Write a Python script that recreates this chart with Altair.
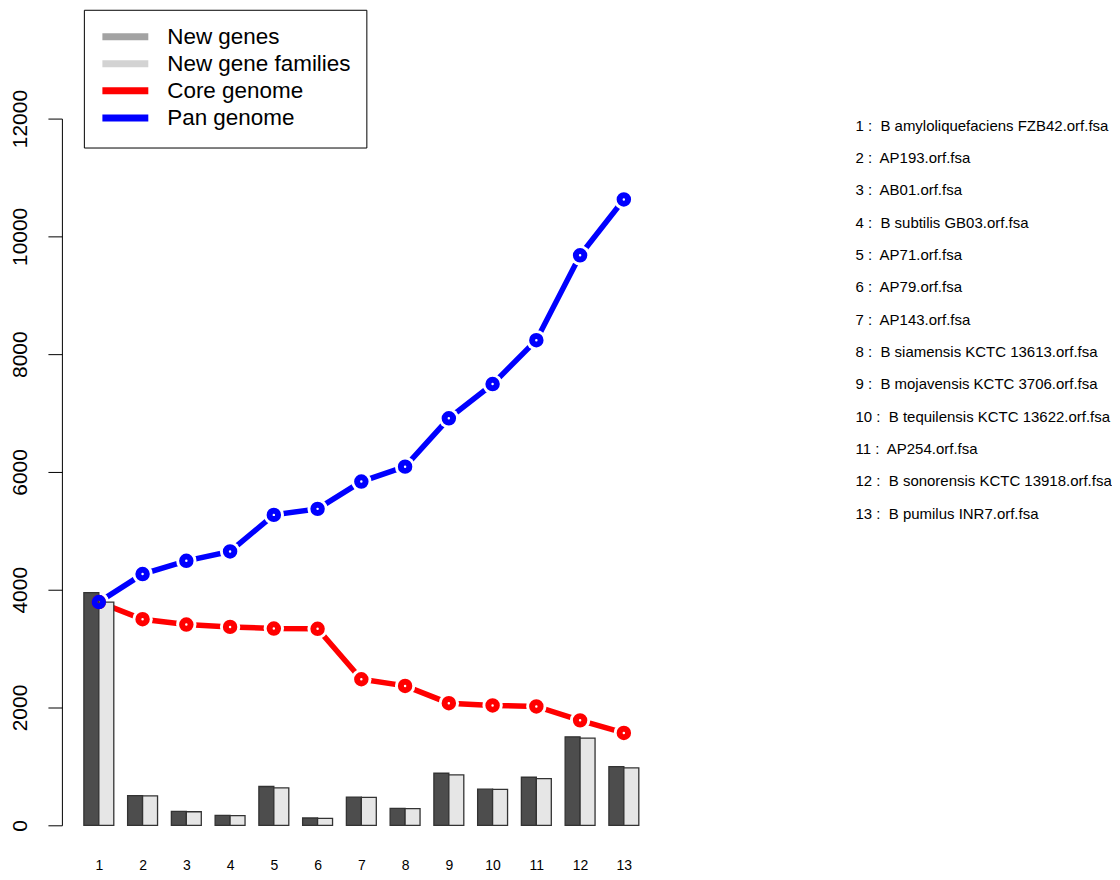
import altair as alt
import pandas as pd

# ---------------- data ----------------
ids = list(range(1, 14))
new_genes = [3952, 505, 236, 169, 659, 124, 479, 287, 884, 614, 816, 1503, 997]
new_families = [3790, 500, 230, 165, 636, 118, 473, 282, 856, 610, 794, 1481, 974]
core_genome = [3790, 3499, 3409, 3369, 3341, 3337, 2480, 2367, 2074, 2036, 2018, 1782, 1568]
pan_genome = [3790, 4266, 4491, 4650, 5271, 5373, 5836, 6090, 6910, 7492, 8237, 9678, 10627]
genome_names = [
    "B amyloliquefaciens FZB42.orf.fsa",
    "AP193.orf.fsa",
    "AB01.orf.fsa",
    "B subtilis GB03.orf.fsa",
    "AP71.orf.fsa",
    "AP79.orf.fsa",
    "AP143.orf.fsa",
    "B siamensis KCTC 13613.orf.fsa",
    "B mojavensis KCTC 3706.orf.fsa",
    "B tequilensis KCTC 13622.orf.fsa",
    "AP254.orf.fsa",
    "B sonorensis KCTC 13918.orf.fsa",
    "B pumilus INR7.orf.fsa",
]
y_ticks = [0, 2000, 4000, 6000, 8000, 10000, 12000]

series_names = ["New genes", "New gene families", "Core genome", "Pan genome"]
legend_colors = ["#a3a3a3", "#d3d3d3", "#ff0000", "#0000ff"]
bar_kinds = ["New genes", "New gene families"]
bar_colors = ["#4d4d4d", "#e6e6e6"]

bars_df = pd.DataFrame({
    "id": ids * 2,
    "kind": ["New genes"] * len(ids) + ["New gene families"] * len(ids),
    "value": new_genes + new_families,
})
lines_df = pd.DataFrame({
    "id": ids * 2,
    "series": ["Core genome"] * len(ids) + ["Pan genome"] * len(ids),
    "value": core_genome + pan_genome,
})
list_df = pd.DataFrame({
    "idx": ids,
    "label": [f"{i} :\u00a0 {n}" for i, n in zip(ids, genome_names)],
})

FONT = "Liberation Sans"
BW = 0.342  # bar width in category units

xscale = alt.Scale(domain=[0.156, 13.845], nice=False, zero=False)
yscale = alt.Scale(domain=[0, 12000], nice=False)

x_axis = alt.Axis(values=ids, domain=False, ticks=False, tickSize=0, labelPadding=33,
                  labelFontSize=14, labelBaseline="top", labelColor="black",
                  labelFont=FONT, grid=False, labelFlush=False, labelOverlap=False)
y_axis = alt.Axis(values=y_ticks, format="d", tickSize=14, tickColor="black", tickWidth=1,
                  domainColor="black", domainWidth=1, labelAngle=270,
                  labelAlign="center", labelBaseline="bottom", labelFontSize=21,
                  labelPadding=17, labelColor="black", labelFont=FONT, grid=False,
                  labelFlush=False, labelOverlap=False)


def X(field):
    return alt.X(field, scale=xscale, axis=x_axis, title=None)


def Y(field):
    return alt.Y(field, scale=yscale, axis=y_axis, title=None)


base = alt.Chart(lines_df)

lines = base.mark_line(strokeWidth=5.5).encode(
    x=X("id:Q"),
    y=Y("value:Q"),
    stroke=alt.Stroke(
        "series:N",
        scale=alt.Scale(domain=series_names, range=legend_colors),
        legend=alt.Legend(
            title=None, orient="none", legendX=22, legendY=-109,
            direction="vertical", symbolType="M-1.1,0H4.9", symbolSize=235,
            symbolStrokeWidth=7, labelFontSize=22.5, labelFont=FONT,
            labelColor="black", labelOffset=45, rowPadding=-1.9, padding=15.5,
            strokeColor="black", fillColor="white", labelLimit=400,
            symbolOpacity=1,
        ),
    ),
)

halos = base.mark_point(filled=True, color="white", opacity=1, size=415,
                        shape="circle").encode(
    x=X("id:Q"),
    y=Y("value:Q"),
)

bars = alt.Chart(bars_df).transform_calculate(
    x0=f"datum.id + (datum.kind == 'New genes' ? -{BW} : 0)",
).transform_calculate(
    x1=f"datum.x0 + {BW}",
).mark_rect(stroke="#333333", strokeWidth=1.3).encode(
    x=X("x0:Q"),
    x2="x1:Q",
    y=Y("value:Q"),
    y2=alt.datum(0),
    fill=alt.Fill("kind:N", scale=alt.Scale(domain=bar_kinds, range=bar_colors),
                  legend=None),
)

rings = base.mark_point(filled=False, shape="circle", size=72, strokeWidth=6,
                        opacity=1).encode(
    x=X("id:Q"),
    y=Y("value:Q"),
    color=alt.Color("series:N",
                    scale=alt.Scale(domain=["Core genome", "Pan genome"],
                                    range=["#ff0000", "#0000ff"]),
                    legend=None),
)

main = alt.layer(lines, halos, bars, rings).properties(width=600, height=708)

names_panel = alt.Chart(list_df).mark_text(
    align="left", baseline="middle", fontSize=15, font=FONT, color="black"
).encode(
    y=alt.Y("idx:O", scale=alt.Scale(type="point", padding=0.22), axis=None),
    x=alt.value(0),
    text="label:N",
).properties(width=240, height=403)

chart = alt.hconcat(main, names_panel, spacing=195, bounds="flush").properties(
    padding={"left": 1, "top": 0, "right": 0, "bottom": 0},
    background="white",
).configure(font=FONT).configure_view(stroke="transparent", strokeWidth=0)

chart.save("out.html", embed_options={"renderer": "svg", "actions": False})
